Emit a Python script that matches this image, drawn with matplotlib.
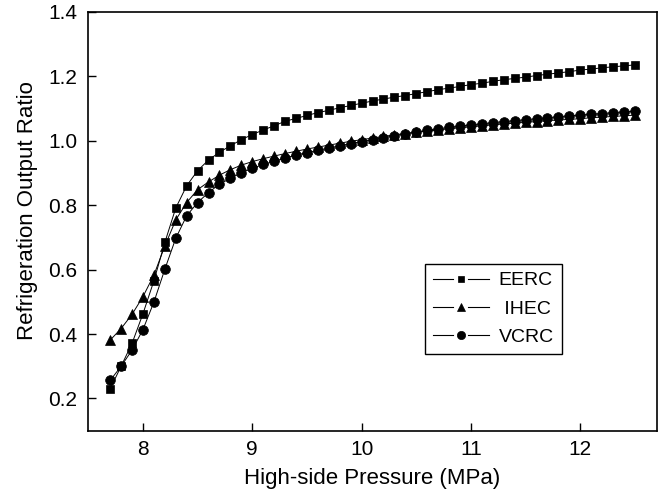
import matplotlib
matplotlib.use('Agg')
import matplotlib.pyplot as plt
from matplotlib.lines import Line2D
from matplotlib.legend_handler import HandlerBase
from matplotlib.ticker import FormatStrFormatter

plt.rcParams['font.family'] = ['Liberation Sans', 'DejaVu Sans']

pressure = [7.7, 7.8, 7.9, 8.0, 8.1, 8.2, 8.3, 8.4, 8.5, 8.6,
            8.7, 8.8, 8.9, 9.0, 9.1, 9.2, 9.3, 9.4, 9.5, 9.6,
            9.7, 9.8, 9.9, 10.0, 10.1, 10.2, 10.3, 10.4, 10.5, 10.6,
            10.7, 10.8, 10.9, 11.0, 11.1, 11.2, 11.3, 11.4, 11.5, 11.6,
            11.7, 11.8, 11.9, 12.0, 12.1, 12.2, 12.3, 12.4, 12.5]

eerc = [0.230, 0.300, 0.371, 0.463, 0.565, 0.684, 0.791, 0.860, 0.907, 0.940,
        0.964, 0.984, 1.003, 1.019, 1.033, 1.046, 1.060, 1.069, 1.078, 1.087,
        1.094, 1.102, 1.109, 1.116, 1.123, 1.129, 1.135, 1.140, 1.146, 1.152,
        1.158, 1.163, 1.168, 1.174, 1.178, 1.184, 1.189, 1.193, 1.197, 1.202,
        1.206, 1.210, 1.214, 1.219, 1.222, 1.226, 1.229, 1.232, 1.235]

ihec = [0.381, 0.417, 0.461, 0.516, 0.583, 0.673, 0.754, 0.808, 0.848, 0.872,
        0.893, 0.910, 0.924, 0.935, 0.944, 0.952, 0.960, 0.967, 0.974, 0.980,
        0.986, 0.992, 0.998, 1.003, 1.008, 1.013, 1.018, 1.022, 1.026, 1.030,
        1.033, 1.037, 1.040, 1.043, 1.046, 1.049, 1.052, 1.054, 1.057, 1.059,
        1.062, 1.064, 1.066, 1.068, 1.071, 1.073, 1.075, 1.077, 1.079]

vcrc = [0.256, 0.300, 0.350, 0.414, 0.499, 0.601, 0.697, 0.767, 0.808, 0.839,
        0.865, 0.883, 0.900, 0.914, 0.926, 0.936, 0.946, 0.955, 0.963, 0.970,
        0.977, 0.984, 0.991, 0.997, 1.003, 1.009, 1.015, 1.021, 1.027, 1.032,
        1.037, 1.041, 1.045, 1.049, 1.052, 1.056, 1.059, 1.062, 1.065, 1.068,
        1.071, 1.074, 1.077, 1.079, 1.082, 1.084, 1.087, 1.089, 1.091]


class GapLineHandler(HandlerBase):
    # legend key drawn as  — marker —  with small gaps around the marker
    def create_artists(self, legend, orig_handle, xdescent, ydescent,
                       width, height, fontsize, trans):
        y = (height - ydescent) / 2.0
        x0 = -xdescent
        left = Line2D([x0, x0 + width * 0.37], [y, y], color='black', lw=0.8)
        right = Line2D([x0 + width * 0.63, x0 + width], [y, y], color='black', lw=0.8)
        mark = Line2D([x0 + width / 2.0], [y], ls='none', color='black',
                      marker=orig_handle.get_marker(),
                      ms=orig_handle.get_markersize() * 0.85, mew=0.5)
        for a in (left, right, mark):
            a.set_transform(trans)
        return [left, right, mark]


fig = plt.figure(figsize=(6.61, 4.98), dpi=100)
ax = fig.add_axes([0.1336, 0.1351, 0.86, 0.8414])

h1, = ax.plot(pressure, eerc, color='black', lw=0.7, marker='s', ms=5.8, mew=0.5, label='EERC')
h2, = ax.plot(pressure, ihec, color='black', lw=0.7, marker='^', ms=7.2, mew=0.5, label=' IHEC')
h3, = ax.plot(pressure, vcrc, color='black', lw=0.7, marker='o', ms=7.0, mew=0.5, label='VCRC')

ax.set_xlim(7.5, 12.7)
ax.set_ylim(0.1, 1.4)
ax.set_xticks([8, 9, 10, 11, 12])
ax.set_yticks([0.2, 0.4, 0.6, 0.8, 1.0, 1.2, 1.4])
ax.yaxis.set_major_formatter(FormatStrFormatter('%.1f'))
ax.tick_params(direction='in', length=6, width=1, labelsize=15)
ax.tick_params(axis='x', pad=7)
ax.tick_params(axis='y', pad=8)
for s in ax.spines.values():
    s.set_linewidth(1.2)

ax.set_xlabel('High-side Pressure (MPa)', fontsize=16, labelpad=6)
ax.set_ylabel('Refrigeration Output Ratio', fontsize=16)
ax.yaxis.set_label_coords(-0.088, 0.525)

handler = GapLineHandler()
leg = ax.legend(handles=[h1, h2, h3], loc='upper left',
                bbox_to_anchor=(0.592, 0.398), borderaxespad=0,
                fancybox=False, framealpha=1, edgecolor='black',
                fontsize=14, handlelength=2.9, handletextpad=0.5,
                labelspacing=0.55, borderpad=0.4,
                handler_map={h1: handler, h2: handler, h3: handler})
leg.get_frame().set_linewidth(1.0)

fig.savefig('out.png', dpi=100)
